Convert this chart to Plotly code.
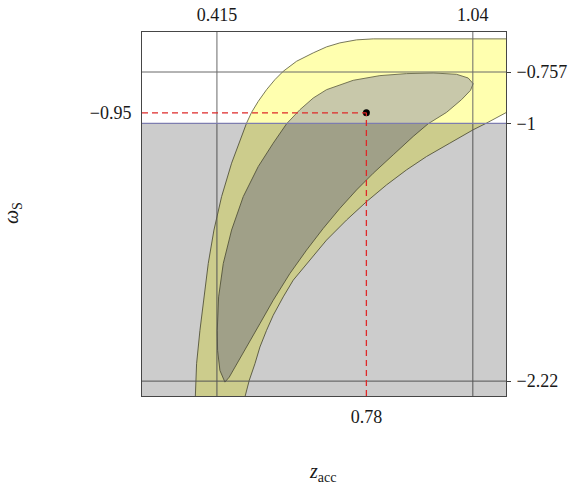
import plotly.graph_objects as go

# Axis ranges (z_acc horizontally, omega_S vertically)
x_range = [0.232, 1.121]
y_range = [-2.2905, -0.5676]

# Tick positions and labels
top_ticks = [0.415, 1.04]
top_labels = ["0.415", "1.04"]
bottom_ticks = [0.78]
bottom_labels = ["0.78"]
left_ticks = [-0.95]
left_labels = ["\u22120.95"]
right_ticks = [-0.757, -1.0, -2.22]
right_labels = ["\u22120.757", "\u22121", "\u22122.22"]

# Best-fit point
best_z = 0.78
best_w = -0.95

# Phantom divide
w_divide = -1.0

# Outer confidence contour (outline of the wide band)
outer_z = [0.3597, 0.3613, 0.3653, 0.3735, 0.3833, 0.3938, 0.4077, 0.4264, 0.4508,
           0.4711, 0.4874, 0.4996, 0.5159, 0.5362, 0.5566, 0.5769, 0.6095, 0.6502,
           0.6827, 0.7153, 0.7560, 0.7967, 1.1629,
           1.1629, 1.1222, 1.0734, 1.0408, 0.9838, 0.9269, 0.8780, 0.8292, 0.7804,
           0.7316, 0.6827, 0.6339, 0.6013, 0.5769, 0.5525, 0.5362, 0.5200, 0.5078,
           0.4939, 0.4833, 0.4752]
outer_w = [-2.4226, -2.3119, -2.1378, -1.9796, -1.8214, -1.6632, -1.5050, -1.3468, -1.1886,
           -1.0779, -0.9988, -0.9481, -0.8959, -0.8406, -0.7931, -0.7536, -0.7061, -0.6665,
           -0.6381, -0.6191, -0.6048, -0.6001, -0.6001,
           -0.9118, -0.9481, -0.9988, -1.0304, -1.0937, -1.1570, -1.2203, -1.2914, -1.3705,
           -1.4576, -1.5525, -1.6632, -1.7423, -1.8214, -1.9084, -1.9796, -2.0587, -2.1378,
           -2.2169, -2.2960, -2.4226]

# Inner confidence contour
inner_z = [0.4345, 0.4223, 0.4166, 0.4158, 0.4191, 0.4305, 0.4508, 0.4793, 0.5159,
           0.5525, 0.5851, 0.6176, 0.6502, 0.6827, 0.7478, 0.8129, 0.8780, 0.9431,
           1.0001, 1.0286, 1.0408, 1.0343, 1.0123, 0.9757, 0.9309, 0.8943, 0.8455,
           0.7967, 0.7560, 0.7153, 0.6746, 0.6339, 0.5932, 0.5525, 0.5200, 0.4874,
           0.4630, 0.4451, 0.4345]
inner_w = [-2.2248, -2.1695, -2.0745, -1.9796, -1.8214, -1.6632, -1.5050, -1.3468, -1.2044,
           -1.0937, -1.0019, -0.9355, -0.8801, -0.8406, -0.7963, -0.7741, -0.7646, -0.7615,
           -0.7678, -0.7852, -0.8121, -0.8437, -0.8880, -0.9481, -1.0019, -1.0620, -1.1491,
           -1.2361, -1.3152, -1.4022, -1.4971, -1.5999, -1.7107, -1.8372, -1.9480, -2.0587,
           -2.1378, -2.2011, -2.2248]

edge = "rgb(105,105,75)"
grid = "rgb(105,105,105)"
guide = "rgb(222,40,40)"
serif = "Liberation Serif"

fig = go.Figure()
fig.add_trace(go.Scatter(x=outer_z, y=outer_w, mode="lines", fill="toself",
                         fillcolor="rgb(255,255,175)", line=dict(color=edge, width=0.9),
                         hoverinfo="skip", showlegend=False))
fig.add_trace(go.Scatter(x=inner_z, y=inner_w, mode="lines", fill="toself",
                         fillcolor="rgb(200,200,170)", line=dict(color=edge, width=0.9),
                         hoverinfo="skip", showlegend=False))
fig.add_trace(go.Scatter(x=[best_z], y=[best_w], mode="markers",
                         marker=dict(color="black", size=7), hoverinfo="skip",
                         showlegend=False))
# invisible trace binding the secondary axes
fig.add_trace(go.Scatter(x=[best_z], y=[best_w], xaxis="x2", yaxis="y2", mode="markers",
                         marker=dict(opacity=0), hoverinfo="skip", showlegend=False))

shapes = []
for xv in top_ticks:
    shapes.append(dict(type="line", xref="x", yref="y domain", x0=xv, x1=xv, y0=0, y1=1,
                       line=dict(color=grid, width=1), layer="above"))
for yv in right_ticks:
    if yv == w_divide:
        continue
    shapes.append(dict(type="line", xref="x domain", yref="y", x0=0, x1=1, y0=yv, y1=yv,
                       line=dict(color=grid, width=1), layer="above"))
# shaded region below the phantom divide
shapes.append(dict(type="rect", xref="x domain", yref="y", x0=0, x1=1,
                   y0=y_range[0], y1=w_divide, fillcolor="rgba(0,0,0,0.2)",
                   line=dict(width=0), layer="above"))
shapes.append(dict(type="line", xref="x domain", yref="y", x0=0, x1=1,
                   y0=w_divide, y1=w_divide, line=dict(color="rgb(125,125,175)", width=1.2),
                   layer="above"))
# dashed guides to the best-fit point
shapes.append(dict(type="line", xref="x", yref="y", x0=x_range[0], x1=best_z,
                   y0=best_w, y1=best_w,
                   line=dict(color=guide, width=1.3, dash="6px,4px"), layer="above"))
shapes.append(dict(type="line", xref="x", yref="y", x0=best_z, x1=best_z,
                   y0=y_range[0], y1=best_w,
                   line=dict(color=guide, width=1.3, dash="6px,4px"), layer="above"))

tickfont = dict(family=serif, size=18, color="rgb(25,25,25)")

fig.update_layout(
    width=571, height=484,
    margin=dict(l=142, r=65, t=32, b=88, autoexpand=False),
    paper_bgcolor="white", plot_bgcolor="white",
    shapes=shapes,
    xaxis=dict(range=x_range, tickvals=bottom_ticks, ticktext=bottom_labels,
               showgrid=False, zeroline=False, ticks="", tickfont=tickfont,
               showline=True, mirror=True, linecolor="rgb(70,70,70)", linewidth=1,
               ticklabelstandoff=4, automargin=False),
    xaxis2=dict(range=x_range, overlaying="x", side="top", tickvals=top_ticks,
                ticktext=top_labels, showgrid=False, zeroline=False, ticks="",
                tickfont=tickfont, showline=False, ticklabelstandoff=6, automargin=False),
    yaxis=dict(range=y_range, tickvals=left_ticks, ticktext=left_labels,
               showgrid=False, zeroline=False, ticks="", tickfont=tickfont,
               showline=True, mirror=True, linecolor="rgb(70,70,70)", linewidth=1,
               ticklabelstandoff=6, automargin=False),
    yaxis2=dict(range=y_range, overlaying="y", side="right", tickvals=right_ticks,
                ticktext=right_labels, showgrid=False, zeroline=False, ticks="outside",
                ticklen=4, tickcolor="rgb(60,60,60)", tickfont=tickfont, showline=False,
                ticklabelstandoff=2, automargin=False),
    annotations=[
        dict(text="<i>z</i><sub>acc</sub>", xref="paper", yref="paper", x=0.497, y=-0.211,
             showarrow=False, font=dict(family=serif, size=20, color="rgb(25,25,25)"),
             xanchor="center", yanchor="middle"),
        dict(text="<i>\u03c9</i><sub>S</sub>", xref="paper", yref="paper", x=-0.354, y=0.503,
             showarrow=False, textangle=-90,
             font=dict(family=serif, size=20, color="rgb(25,25,25)"),
             xanchor="center", yanchor="middle"),
    ],
)

fig.write_html("out.html")
